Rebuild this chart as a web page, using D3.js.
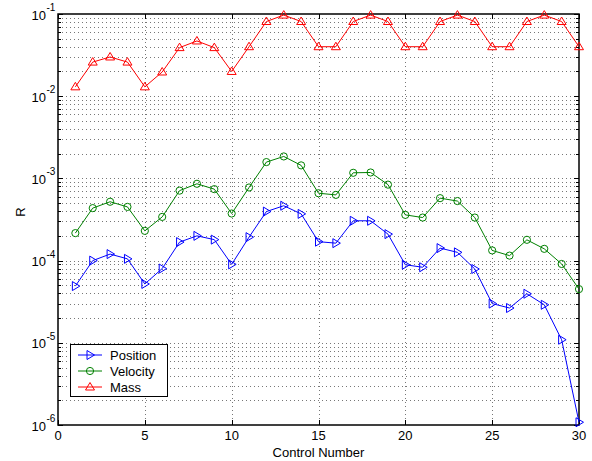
<!DOCTYPE html>
<html>
<head>
<meta charset="utf-8">
<script src="https://cdn.jsdelivr.net/npm/d3@7"></script>
<style>
  body { margin: 0; background: #fff; }
  svg text { font-family: "Liberation Sans", Arial, Helvetica, sans-serif; }
</style>
</head>
<body>
<svg id="chart"></svg>
<script>
const SIZE = { width: 592, height: 461 }
const MARGIN = { left: 58, right: 13, top: 14, bottom: 36 }

const controlNumber = d3.range(1, 31)
const position = [4.9e-5, 1.0e-4, 1.2e-4, 1.05e-4, 5.2e-5, 8.0e-5, 1.68e-4, 2.0e-4, 1.8e-4, 9.0e-5,
  1.93e-4, 3.95e-4, 4.65e-4, 3.7e-4, 1.7e-4, 1.63e-4, 3.05e-4, 3.05e-4, 2.1e-4, 8.9e-5,
  8.3e-5, 1.42e-4, 1.26e-4, 7.9e-5, 3.0e-5, 2.65e-5, 3.95e-5, 2.9e-5, 1.09e-5, 1.08e-6]
const velocity = [2.16e-4, 4.35e-4, 5.2e-4, 4.5e-4, 2.3e-4, 3.4e-4, 7.1e-4, 8.6e-4, 7.4e-4, 3.74e-4,
  7.75e-4, 1.58e-3, 1.85e-3, 1.44e-3, 6.6e-4, 6.3e-4, 1.17e-3, 1.18e-3, 8.4e-4, 3.6e-4,
  3.34e-4, 5.75e-4, 5.3e-4, 3.34e-4, 1.33e-4, 1.15e-4, 1.79e-4, 1.39e-4, 9.1e-5, 4.5e-5]
const mass = [1.3e-2, 2.6e-2, 3.0e-2, 2.6e-2, 1.3e-2, 1.97e-2, 3.9e-2, 4.7e-2, 3.9e-2, 2.0e-2,
  4.0e-2, 8.1e-2, 9.7e-2, 8.1e-2, 4.0e-2, 4.0e-2, 8.1e-2, 9.7e-2, 8.1e-2, 4.0e-2,
  4.0e-2, 8.1e-2, 9.7e-2, 8.1e-2, 4.0e-2, 4.0e-2, 8.1e-2, 9.7e-2, 8.1e-2, 4.0e-2]
const xTicks = [0, 5, 10, 15, 20, 25, 30]
const yDecades = [-6, -5, -4, -3, -2, -1]

const seriesList = [
  { name: "Position", values: position, color: "#0000ff", marker: "right" },
  { name: "Velocity", values: velocity, color: "#008000", marker: "circle" },
  { name: "Mass", values: mass, color: "#ff0000", marker: "up" },
]

const svg = d3.select("svg#chart").attr("width", SIZE.width).attr("height", SIZE.height)
svg.append("rect").attr("width", SIZE.width).attr("height", SIZE.height).attr("fill", "#fff")

const xScale = d3.scaleLinear().domain([0, 30]).range([MARGIN.left, SIZE.width - MARGIN.right])
const yScale = d3.scaleLog().domain([1e-6, 1e-1]).range([SIZE.height - MARGIN.bottom, MARGIN.top])
const x0 = xScale.range()[0], x1 = xScale.range()[1]
const yb = yScale.range()[0], yt = yScale.range()[1]

// minor + major log values
const logVals = []
yDecades.forEach(e => {
  for (let m = 1; m <= 9; m++) {
    const v = m * Math.pow(10, e)
    if (v <= 1e-1 + 1e-12) logVals.push({ v: v, major: m === 1 })
  }
})

// grid
const grid = svg.append("g").attr("stroke", "#777").attr("stroke-width", 1).attr("stroke-dasharray", "1,3")
grid.selectAll(".gx").data(xTicks.slice(1, -1)).enter().append("line")
  .attr("x1", d => Math.round(xScale(d)) + 0.5).attr("x2", d => Math.round(xScale(d)) + 0.5)
  .attr("y1", yt).attr("y2", yb)
grid.selectAll(".gy").data(logVals.filter(d => d.v > 1e-6 && d.v < 1e-1)).enter().append("line")
  .attr("x1", x0).attr("x2", x1)
  .attr("y1", d => Math.round(yScale(d.v)) + 0.5).attr("y2", d => Math.round(yScale(d.v)) + 0.5)

// ticks
const ticks = svg.append("g").attr("stroke", "#000").attr("stroke-width", 1)
xTicks.forEach(t => {
  const xx = Math.round(xScale(t)) + 0.5
  ticks.append("line").attr("x1", xx).attr("x2", xx).attr("y1", yb).attr("y2", yb - 5)
  ticks.append("line").attr("x1", xx).attr("x2", xx).attr("y1", yt).attr("y2", yt + 5)
})
logVals.forEach(d => {
  const yy = Math.round(yScale(d.v)) + 0.5
  const len = d.major ? 5 : 3
  ticks.append("line").attr("x1", x0).attr("x2", x0 + len).attr("y1", yy).attr("y2", yy)
  ticks.append("line").attr("x1", x1).attr("x2", x1 - len).attr("y1", yy).attr("y2", yy)
})

// box
svg.append("rect").attr("x", x0).attr("y", yt).attr("width", x1 - x0).attr("height", yb - yt)
  .attr("fill", "none").attr("stroke", "#000").attr("stroke-width", 1.5)

// tick labels
svg.selectAll(".xl").data(xTicks).enter().append("text")
  .attr("x", d => xScale(d)).attr("y", yb + 15).attr("text-anchor", "middle")
  .attr("font-size", 13).text(d => d)
yDecades.forEach(e => {
  const yy = yScale(Math.pow(10, e))
  svg.append("text").attr("x", 46).attr("y", yy + 5.5).attr("text-anchor", "end").attr("font-size", 13).text("10")
  svg.append("text").attr("x", 46.5).attr("y", yy - 3).attr("font-size", 10).text("-" + (-e))
})

svg.append("text").attr("x", (x0 + x1) / 2).attr("y", 457).attr("text-anchor", "middle")
  .attr("font-size", 13).text("Control Number")
svg.append("text").attr("transform", `translate(25, 212) rotate(-90)`)
  .attr("text-anchor", "middle").attr("font-size", 13).text("R")

function markerPath(type) {
  if (type === "right") return "M-3,-4.5L4.5,0L-3,4.5Z"
  if (type === "up") return "M0,-4.5L4.5,3L-4.5,3Z"
  return null
}
function drawMarker(g, type, color, px, py) {
  if (type === "circle") {
    g.append("circle").attr("cx", px).attr("cy", py).attr("r", 3.6)
      .attr("fill", "none").attr("stroke", color).attr("stroke-width", 1)
  } else {
    g.append("path").attr("d", markerPath(type)).attr("transform", `translate(${px},${py})`)
      .attr("fill", "none").attr("stroke", color).attr("stroke-width", 1)
  }
}

const line = d3.line().x(d => xScale(d[0])).y(d => yScale(d[1]))
seriesList.forEach(s => {
  const pts = controlNumber.map((c, i) => [c, s.values[i]])
  const g = svg.append("g")
  g.append("path").attr("d", line(pts)).attr("fill", "none").attr("stroke", s.color).attr("stroke-width", 1)
  pts.forEach(p => drawMarker(g, s.marker, s.color, xScale(p[0]), yScale(p[1])))
})

// legend
const lg = svg.append("g")
lg.append("rect").attr("x", 70.5).attr("y", 344.5).attr("width", 97).attr("height", 52)
  .attr("fill", "#fff").attr("stroke", "#000").attr("stroke-width", 1)
seriesList.forEach((s, i) => {
  const yy = 355 + i * 16
  lg.append("line").attr("x1", 78).attr("x2", 102).attr("y1", yy).attr("y2", yy)
    .attr("stroke", s.color).attr("stroke-width", 1)
  drawMarker(lg, s.marker, s.color, 90, yy)
  lg.append("text").attr("x", 110).attr("y", yy + 4.5).attr("font-size", 13).text(s.name)
})
</script>
</body>
</html>
